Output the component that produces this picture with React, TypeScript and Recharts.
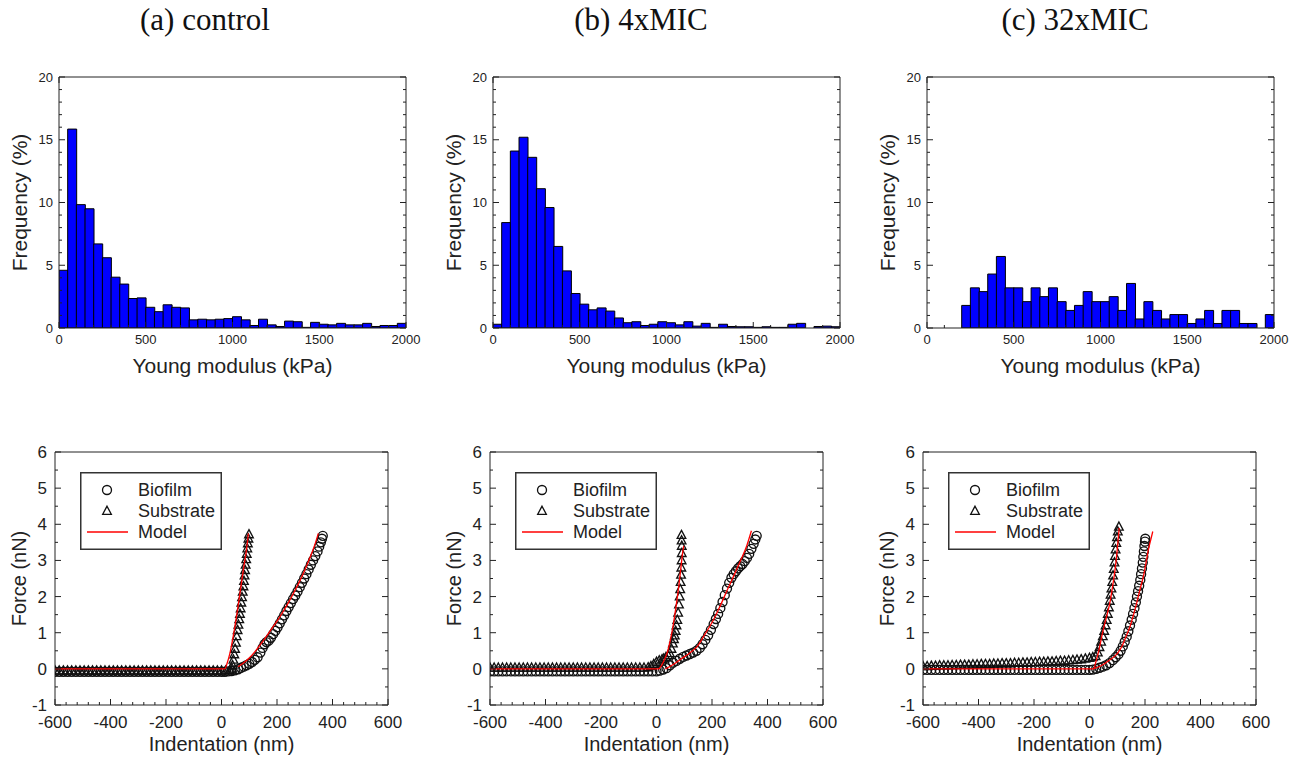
import React from 'react';
import { ComposedChart, Bar, XAxis, YAxis, Scatter, Legend } from 'recharts';

const FONT = '"Liberation Sans", Arial, sans-serif';
const SERIF = '"Liberation Serif", "Times New Roman", serif';
const INK = '#222';

// ---------- Histogram data (bin width 50 kPa) ----------
const binStarts = [0, 50, 100, 150, 200, 250, 300, 350, 400, 450, 500, 550, 600, 650, 700, 750, 800, 850, 900, 950,
  1000, 1050, 1100, 1150, 1200, 1250, 1300, 1350, 1400, 1450, 1500, 1550, 1600, 1650, 1700, 1750, 1800, 1850, 1900, 1950];
const BIN = 50;
const freqControl = [4.6, 15.85, 9.83, 9.5, 6.7, 5.6, 4.05, 3.5, 2.35, 2.4, 1.65, 1.3, 1.85, 1.65, 1.6, 0.65, 0.7, 0.65, 0.7, 0.75,
  0.9, 0.65, 0.2, 0.7, 0.25, 0.12, 0.55, 0.5, 0.05, 0.45, 0.3, 0.25, 0.37, 0.25, 0.25, 0.37, 0.12, 0.2, 0.2, 0.37];
const freq4xMIC = [0.3, 8.4, 14.1, 15.2, 13.6, 11.1, 9.6, 6.5, 4.55, 2.75, 1.9, 1.45, 1.6, 1.35, 0.8, 0.42, 0.5, 0.2, 0.3, 0.5,
  0.42, 0.25, 0.5, 0.15, 0.37, 0.05, 0.3, 0.12, 0.1, 0.1, 0.05, 0.1, 0.05, 0.05, 0.3, 0.37, 0, 0.12, 0.15, 0.1];
const freq32xMIC = [0, 0, 0, 0, 1.8, 3.2, 2.9, 4.3, 5.7, 3.2, 3.2, 2.1, 3.2, 2.5, 3.2, 2.1, 1.4, 1.8, 2.9, 2.1,
  2.1, 2.5, 1.4, 3.55, 0.72, 2.1, 1.4, 0.72, 1.07, 1.07, 0.36, 0.72, 1.4, 0.36, 1.4, 1.4, 0.36, 0.36, 0, 1.07];

const histXTicks = [0, 100, 200, 300, 400, 500, 600, 700, 800, 900, 1000, 1100, 1200, 1300, 1400, 1500, 1600, 1700, 1800, 1900, 2000];
const histXMajor = [0, 500, 1000, 1500, 2000];
const histYTicks = [0, 1, 2, 3, 4, 5, 6, 7, 8, 9, 10, 11, 12, 13, 14, 15, 16, 17, 18, 19, 20];
const histYMajor = [0, 5, 10, 15, 20];

// ---------- Force curve data [indentation nm, force nN] ----------
const forceXTicks = [-600, -560, -520, -480, -440, -400, -360, -320, -280, -240, -200, -160, -120, -80, -40, 0,
  40, 80, 120, 160, 200, 240, 280, 320, 360, 400, 440, 480, 520, 560, 600];
const forceXMajor = [-600, -400, -200, 0, 200, 400, 600];
const forceYTicks = [-1, -0.5, 0, 0.5, 1, 1.5, 2, 2.5, 3, 3.5, 4, 4.5, 5, 5.5, 6];
const forceYMajor = [-1, 0, 1, 2, 3, 4, 5, 6];

const biofilmA: number[][] = [
  [-600, -0.08], [-585, -0.08], [-570, -0.08], [-555, -0.08], [-540, -0.08], [-525, -0.08], [-510, -0.08], [-495, -0.08],
  [-480, -0.08], [-465, -0.08], [-450, -0.08], [-435, -0.08], [-420, -0.08], [-405, -0.08], [-390, -0.08], [-375, -0.08],
  [-360, -0.08], [-345, -0.08], [-330, -0.08], [-315, -0.08], [-300, -0.08], [-285, -0.08], [-270, -0.08], [-255, -0.08],
  [-240, -0.08], [-225, -0.08], [-210, -0.08], [-195, -0.08], [-180, -0.08], [-165, -0.08], [-150, -0.08], [-135, -0.08],
  [-120, -0.08], [-105, -0.08], [-90, -0.08], [-75, -0.08], [-60, -0.08], [-45, -0.08], [-30, -0.08], [-15, -0.08], [0, -0.08],
  [12, -0.08], [24, -0.07], [36, -0.06], [48, -0.04], [60, -0.01], [70, 0.03], [80, 0.06], [90, 0.1], [100, 0.14], [110, 0.19],
  [120, 0.25], [130, 0.32], [140, 0.45], [148, 0.58], [155, 0.68], [162, 0.74], [170, 0.78], [178, 0.86], [186, 0.96],
  [194, 1.05], [202, 1.15], [210, 1.26], [218, 1.37], [226, 1.48], [234, 1.6], [242, 1.71], [250, 1.82], [258, 1.93],
  [266, 2.03], [274, 2.14], [282, 2.26], [290, 2.38], [298, 2.5], [306, 2.62], [314, 2.75], [322, 2.88], [330, 3.0],
  [338, 3.12], [346, 3.25], [352, 3.38], [358, 3.5], [362, 3.6], [365, 3.68],
];
const substrateA: number[][] = [
  [-600, -0.05], [-585, -0.05], [-570, -0.05], [-555, -0.05], [-540, -0.05], [-525, -0.05], [-510, -0.05], [-495, -0.05],
  [-480, -0.05], [-465, -0.05], [-450, -0.05], [-435, -0.05], [-420, -0.05], [-405, -0.05], [-390, -0.05], [-375, -0.05],
  [-360, -0.05], [-345, -0.05], [-330, -0.05], [-315, -0.05], [-300, -0.05], [-285, -0.05], [-270, -0.05], [-255, -0.05],
  [-240, -0.05], [-225, -0.05], [-210, -0.05], [-195, -0.05], [-180, -0.05], [-165, -0.05], [-150, -0.05], [-135, -0.05],
  [-120, -0.05], [-105, -0.05], [-90, -0.05], [-75, -0.05], [-60, -0.05], [-45, -0.05], [-30, -0.05], [-15, -0.05], [0, -0.05],
  [15, -0.05], [30, -0.04],
  [38, 0.0], [40, 0.1], [43, 0.25], [46, 0.4], [49, 0.55], [52, 0.72], [55, 0.9], [58, 1.07], [61, 1.22], [64, 1.37],
  [66.5, 1.52], [69, 1.67], [71.5, 1.83], [74, 1.98], [76.5, 2.13], [79, 2.28], [81, 2.43], [83, 2.58], [85, 2.73],
  [87, 2.88], [89, 3.03], [91, 3.18], [93, 3.33], [95, 3.47], [97, 3.6], [99, 3.72],
];
const modelSubA: number[][] = [[-600, 0], [12, 0], [20, 0.15], [30, 0.42], [40, 0.8], [50, 1.25], [60, 1.75], [70, 2.28], [80, 2.8], [90, 3.3], [97, 3.75]];
const modelBioA: number[][] = [[60, 0.06], [80, 0.17], [100, 0.3], [120, 0.47], [140, 0.67], [160, 0.88], [180, 1.1], [200, 1.32],
  [220, 1.56], [240, 1.82], [260, 2.1], [280, 2.4], [300, 2.73], [320, 3.1], [340, 3.52], [349, 3.75]];

const biofilmB: number[][] = [
  [-600, -0.07], [-585, -0.07], [-570, -0.07], [-555, -0.07], [-540, -0.07], [-525, -0.07], [-510, -0.07], [-495, -0.07],
  [-480, -0.07], [-465, -0.07], [-450, -0.07], [-435, -0.07], [-420, -0.07], [-405, -0.07], [-390, -0.07], [-375, -0.07],
  [-360, -0.07], [-345, -0.07], [-330, -0.07], [-315, -0.07], [-300, -0.07], [-285, -0.07], [-270, -0.07], [-255, -0.07],
  [-240, -0.07], [-225, -0.07], [-210, -0.07], [-195, -0.07], [-180, -0.07], [-165, -0.07], [-150, -0.07], [-135, -0.07],
  [-120, -0.07], [-105, -0.07], [-90, -0.07], [-75, -0.07], [-60, -0.07], [-45, -0.07], [-30, -0.07], [-15, -0.07], [0, -0.07],
  [12, -0.05], [24, -0.02], [36, 0.02], [48, 0.1], [60, 0.17], [72, 0.22], [84, 0.28], [96, 0.33], [108, 0.37], [120, 0.41],
  [132, 0.45], [144, 0.5], [156, 0.58], [166, 0.68], [176, 0.8], [186, 0.93], [196, 1.08], [206, 1.24], [214, 1.38],
  [222, 1.52], [230, 1.68], [238, 1.85], [246, 2.04], [254, 2.22], [262, 2.38], [270, 2.52], [278, 2.62], [286, 2.7],
  [294, 2.78], [302, 2.84], [310, 2.9], [318, 2.98], [326, 3.07], [334, 3.18], [342, 3.32], [350, 3.46], [356, 3.58], [361, 3.68],
];
const substrateB: number[][] = [
  [-600, 0.03], [-585, 0.03], [-570, 0.03], [-555, 0.03], [-540, 0.03], [-525, 0.03], [-510, 0.03], [-495, 0.03],
  [-480, 0.03], [-465, 0.03], [-450, 0.03], [-435, 0.03], [-420, 0.03], [-405, 0.03], [-390, 0.03], [-375, 0.03],
  [-360, 0.03], [-345, 0.03], [-330, 0.03], [-315, 0.03], [-300, 0.03], [-285, 0.03], [-270, 0.03], [-255, 0.03],
  [-240, 0.03], [-225, 0.03], [-210, 0.03], [-195, 0.03], [-180, 0.03], [-165, 0.03], [-150, 0.03], [-135, 0.03],
  [-120, 0.03], [-105, 0.03], [-90, 0.03], [-75, 0.03], [-60, 0.03], [-45, 0.03], [-30, 0.04],
  [-20, 0.07], [-10, 0.13], [0, 0.19], [10, 0.23], [20, 0.26], [26, 0.28], [34, 0.32], [42, 0.37], [48, 0.43], [54, 0.55],
  [59, 0.7], [63, 0.82], [66, 0.92], [69, 1.05], [72, 1.2], [75, 1.35], [78, 1.55], [81, 1.78], [83.5, 2.0], [85.5, 2.2],
  [87, 2.4], [88.5, 2.6], [89.5, 2.8], [90.5, 3.0], [91, 3.2], [91, 3.4], [90.5, 3.55], [90, 3.7],
];
const modelSubB: number[][] = [[-600, 0], [8, 0], [20, 0.12], [30, 0.28], [40, 0.48], [50, 0.8], [60, 1.2], [70, 1.7], [80, 2.27], [88, 2.8], [94, 3.2], [98, 3.4]];
const modelBioB: number[][] = [[32, 0], [60, 0.12], [90, 0.28], [120, 0.44], [147, 0.62], [170, 0.9], [190, 1.15], [207, 1.38],
  [230, 1.75], [255, 2.18], [280, 2.6], [303, 3.0], [325, 3.4], [342, 3.82]];

const biofilmC: number[][] = [
  [-600, -0.03], [-585, -0.03], [-570, -0.03], [-555, -0.03], [-540, -0.03], [-525, -0.03], [-510, -0.03], [-495, -0.03],
  [-480, -0.03], [-465, -0.03], [-450, -0.03], [-435, -0.03], [-420, -0.03], [-405, -0.03], [-390, -0.03], [-375, -0.03],
  [-360, -0.03], [-345, -0.03], [-330, -0.03], [-315, -0.03], [-300, -0.03], [-285, -0.03], [-270, -0.03], [-255, -0.03],
  [-240, -0.03], [-225, -0.03], [-210, -0.03], [-195, -0.03], [-180, -0.03], [-165, -0.03], [-150, -0.03], [-135, -0.03],
  [-120, -0.03], [-105, -0.03], [-90, -0.03], [-75, -0.03], [-60, -0.03], [-45, -0.03], [-30, -0.03], [-15, -0.03], [0, -0.03],
  [12, -0.02], [24, 0.0], [36, 0.03], [48, 0.06], [60, 0.1], [72, 0.16], [84, 0.24], [94, 0.32], [104, 0.4], [112, 0.5],
  [120, 0.62], [127, 0.75], [134, 0.89], [140, 1.04], [146, 1.2], [152, 1.36], [157, 1.52], [162, 1.68], [167, 1.84],
  [171, 2.0], [175, 2.15], [179, 2.3], [183, 2.46], [186, 2.62], [189, 2.78], [192, 2.94], [194, 3.1], [196, 3.25],
  [198, 3.4], [200, 3.52], [201, 3.6],
];
const substrateC: number[][] = [
  [-600, 0.07], [-585, 0.07], [-570, 0.08], [-555, 0.08], [-540, 0.09], [-525, 0.09], [-510, 0.09], [-495, 0.1],
  [-480, 0.1], [-465, 0.11], [-450, 0.11], [-435, 0.11], [-420, 0.12], [-405, 0.12], [-390, 0.13], [-375, 0.13],
  [-360, 0.13], [-345, 0.14], [-330, 0.14], [-315, 0.15], [-300, 0.15], [-285, 0.15], [-270, 0.16], [-255, 0.16],
  [-240, 0.17], [-225, 0.17], [-210, 0.18], [-195, 0.18], [-180, 0.19], [-165, 0.19], [-150, 0.2], [-135, 0.2],
  [-120, 0.21], [-105, 0.22], [-90, 0.22], [-75, 0.23], [-60, 0.24], [-45, 0.25], [-30, 0.26], [-15, 0.28], [0, 0.3],
  [12, 0.32], [22, 0.35], [30, 0.45], [36, 0.6], [42, 0.75], [48, 0.9], [53, 1.05], [58, 1.2], [62, 1.35], [66, 1.52],
  [70, 1.7], [73, 1.88], [76, 2.05], [79, 2.22], [82, 2.4], [85, 2.58], [87.5, 2.76], [90, 2.94], [92, 3.12], [94, 3.3],
  [96.5, 3.48], [99, 3.64], [102, 3.8], [106, 3.93],
];
const modelSubC: number[][] = [[-600, 0], [14, 0], [25, 0.25], [35, 0.55], [44, 0.89], [55, 1.25], [65, 1.55], [74, 1.85], [83, 2.27], [92, 2.74], [100, 3.3], [107, 3.9]];
const modelBioC: number[][] = [[14, 0], [40, 0.08], [74, 0.25], [100, 0.42], [116, 0.61], [132, 0.9], [146, 1.17], [158, 1.48],
  [170, 1.82], [182, 2.2], [194, 2.55], [204, 2.95], [212, 3.29], [220, 3.55], [228, 3.8]];

const panelTitles = ['(a) control', '(b) 4xMIC', '(c) 32xMIC'];

// ---------- helpers ----------
const toPts = (arr: number[][]) => arr.map(([x, y]) => ({ x, y }));

type Side = 'bottom' | 'top' | 'left' | 'right';
function makeTick(side: Side, majors: number[], gap: number, fontSize: number) {
  return function TickMark(props: any) {
    const { x, y, payload } = props;
    const v = Number(payload.value);
    const isMajor = majors.some((m) => Math.abs(m - v) < 1e-6);
    const len = isMajor ? 6 : 3;
    const st = { stroke: INK, strokeWidth: 1 };
    const txt = { fontSize, fontFamily: FONT, fill: INK };
    if (side === 'bottom') {
      const ay = y - gap;
      return (
        <g>
          <line x1={x} x2={x} y1={ay} y2={ay - len} {...st} />
          {isMajor && <text x={x} y={y} dy="0.71em" textAnchor="middle" {...txt}>{v}</text>}
        </g>
      );
    }
    if (side === 'top') {
      const ay = y + gap;
      return <line x1={x} x2={x} y1={ay} y2={ay + len} {...st} />;
    }
    if (side === 'left') {
      const ax = x + gap;
      return (
        <g>
          <line x1={ax} x2={ax + len} y1={y} y2={y} {...st} />
          {isMajor && <text x={x} y={y} dy="0.35em" textAnchor="end" {...txt}>{v}</text>}
        </g>
      );
    }
    const ax = x - gap;
    return <line x1={ax} x2={ax - len} y1={y} y2={y} {...st} />;
  };
}

const MARK = '#111';
const CircleShape = (p: any) => (
  <circle cx={p.cx} cy={p.cy} r={4.5} fill="none" stroke={MARK} strokeWidth={1.35} />
);
const TriangleShape = (p: any) => (
  <path d={`M${p.cx},${p.cy - 4.8} L${p.cx + 4.3},${p.cy + 3.3} L${p.cx - 4.3},${p.cy + 3.3} Z`} fill="none" stroke={MARK} strokeWidth={1.35} />
);
const NoShape = () => <g />;

function ForceLegend() {
  return (
    <svg width={142} height={78} style={{ display: 'block' }}>
      <rect x={0.75} y={0.75} width={140.5} height={76.5} fill="#fff" stroke="#333" strokeWidth={1.5} />
      <circle cx={27} cy={18} r={4.5} fill="none" stroke={MARK} strokeWidth={1.35} />
      <path d="M27,34.2 L31.3,42.3 L22.7,42.3 Z" fill="none" stroke={MARK} strokeWidth={1.35} />
      <line x1={7} x2={48} y1={60} y2={60} stroke="#ff0000" strokeWidth={1.3} />
      <text x={58} y={18} dy="0.35em" fontSize={18} fontFamily={FONT} fill={INK}>Biofilm</text>
      <text x={58} y={39} dy="0.35em" fontSize={18} fontFamily={FONT} fill={INK}>Substrate</text>
      <text x={58} y={60} dy="0.35em" fontSize={18} fontFamily={FONT} fill={INK}>Model</text>
    </svg>
  );
}

function Histogram({ left, freq }: { left: number; freq: number[] }) {
  const data = binStarts.map((s, i) => ({ x: s + BIN / 2, f: freq[i] }));
  return (
    <div style={{ position: 'absolute', left, top: 60 }}>
      <ComposedChart width={428} height={330} data={data} margin={{ top: 16, right: 21, bottom: 10, left: 0 }} barCategoryGap={0} barGap={0}>
        <XAxis dataKey="x" type="number" domain={[0, 2000]} allowDataOverflow ticks={histXTicks} interval={0}
          tickLine={false} tickSize={0} tickMargin={7} tick={makeTick('bottom', histXMajor, 7, 13)}
          axisLine={{ stroke: INK }} height={52}
          label={{ value: 'Young modulus (kPa)', position: 'insideBottom', offset: 7, fontSize: 21, fontFamily: FONT, fill: INK }} />
        <XAxis xAxisId="top" orientation="top" type="number" domain={[0, 2000]} allowDataOverflow ticks={histXTicks} interval={0}
          tickLine={false} tickSize={0} tickMargin={0} tick={makeTick('top', histXMajor, 0, 13)} axisLine={{ stroke: INK }} height={1} />
        <YAxis type="number" domain={[0, 20]} allowDataOverflow ticks={histYTicks} interval={0}
          tickLine={false} tickSize={0} tickMargin={6} tick={makeTick('left', histYMajor, 6, 13)} axisLine={{ stroke: INK }} width={59}
          label={{ value: 'Frequency (%)', angle: -90, position: 'insideLeft', offset: 20, fontSize: 21, fontFamily: FONT, fill: INK, style: { textAnchor: 'middle' } }} />
        <YAxis yAxisId="right" orientation="right" type="number" domain={[0, 20]} allowDataOverflow ticks={histYTicks} interval={0}
          tickLine={false} tickSize={0} tickMargin={0} tick={makeTick('right', histYMajor, 0, 13)} axisLine={{ stroke: INK }} width={1} />
        <Bar dataKey="f" fill="#0000ff" stroke="#000" strokeWidth={1} isAnimationActive={false} />
      </ComposedChart>
    </div>
  );
}

function ForceChart({ left, bio, sub, fitSub, fitBio }: { left: number; bio: number[][]; sub: number[][]; fitSub: number[][]; fitBio: number[][] }) {
  const red = { stroke: '#ff0000', strokeWidth: 1.3, fill: 'none' };
  return (
    <div style={{ position: 'absolute', left, top: 430 }}>
      <ComposedChart width={420} height={329} margin={{ top: 21, right: 31, bottom: 2, left: 0 }}>
        <XAxis dataKey="x" type="number" domain={[-600, 600]} allowDataOverflow ticks={forceXTicks} interval={0}
          tickLine={false} tickSize={0} tickMargin={11} tick={makeTick('bottom', forceXMajor, 11, 17)}
          axisLine={{ stroke: INK }} height={52}
          label={{ value: 'Indentation (nm)', position: 'insideBottom', offset: 6, fontSize: 20, fontFamily: FONT, fill: INK }} />
        <XAxis xAxisId="top" orientation="top" type="number" domain={[-600, 600]} allowDataOverflow ticks={forceXTicks} interval={0}
          tickLine={false} tickSize={0} tickMargin={0} tick={makeTick('top', forceXMajor, 0, 17)} axisLine={{ stroke: INK }} height={1} />
        <YAxis dataKey="y" type="number" domain={[-1, 6]} allowDataOverflow ticks={forceYTicks} interval={0}
          tickLine={false} tickSize={0} tickMargin={8} tick={makeTick('left', forceYMajor, 8, 17)} axisLine={{ stroke: INK }} width={55}
          label={{ value: 'Force (nN)', angle: -90, position: 'insideLeft', offset: 19, fontSize: 20, fontFamily: FONT, fill: INK, style: { textAnchor: 'middle' } }} />
        <YAxis yAxisId="right" orientation="right" type="number" domain={[-1, 6]} allowDataOverflow ticks={forceYTicks} interval={0}
          tickLine={false} tickSize={0} tickMargin={0} tick={makeTick('right', forceYMajor, 0, 17)} axisLine={{ stroke: INK }} width={1} />
        <Scatter name="Substrate" data={toPts(sub)} dataKey="y" shape={TriangleShape} isAnimationActive={false} />
        <Scatter name="Biofilm" data={toPts(bio)} dataKey="y" shape={CircleShape} isAnimationActive={false} />
        <Scatter name="Model" data={toPts(fitSub)} dataKey="y" shape={NoShape} line={red} lineType="joint" lineJointType="monotoneX" isAnimationActive={false} />
        <Scatter name="Model fit" data={toPts(fitBio)} dataKey="y" shape={NoShape} line={red} lineType="joint" lineJointType="monotoneX" isAnimationActive={false} />
        <Legend layout="horizontal" verticalAlign="middle" align="center" content={() => <ForceLegend />}
          wrapperStyle={{ left: 80, top: 42, width: 142, height: 78 }} />
      </ComposedChart>
    </div>
  );
}

export default function App() {
  const titleCenters = [205, 641, 1075];
  return (
    <div style={{ position: 'absolute', left: 0, top: 0, width: 1298, height: 759, background: '#fff', overflow: 'hidden' }}>
      {panelTitles.map((t, i) => (
        <div key={t} style={{ position: 'absolute', left: titleCenters[i] - 120, width: 240, top: 0, height: 40, lineHeight: '40px', textAlign: 'center', fontFamily: SERIF, fontSize: 31, color: '#111' }}>{t}</div>
      ))}
      <Histogram left={0} freq={freqControl} />
      <Histogram left={434} freq={freq4xMIC} />
      <Histogram left={868} freq={freq32xMIC} />
      <ForceChart left={0} bio={biofilmA} sub={substrateA} fitSub={modelSubA} fitBio={modelBioA} />
      <ForceChart left={435} bio={biofilmB} sub={substrateB} fitSub={modelSubB} fitBio={modelBioB} />
      <ForceChart left={868} bio={biofilmC} sub={substrateC} fitSub={modelSubC} fitBio={modelBioC} />
    </div>
  );
}
